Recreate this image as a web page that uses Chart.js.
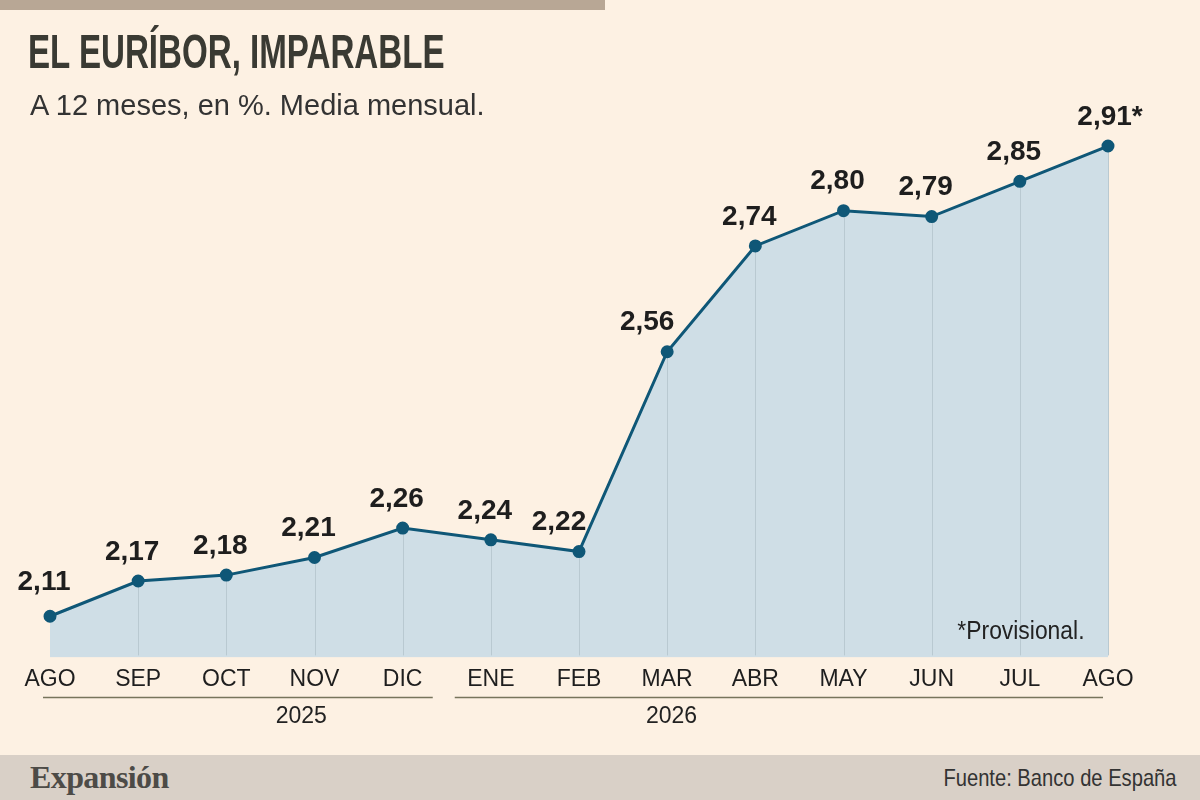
<!DOCTYPE html>
<html>
<head>
<meta charset="utf-8">
<script src="https://cdn.jsdelivr.net/npm/chart.js@4.4.1/dist/chart.umd.min.js"></script>
<style>
    html, body { margin: 0; padding: 0; }
    body { width: 1200px; height: 800px; background: #fdf1e3; position: relative; overflow: hidden; }
    #topbar { position: absolute; left: 0; top: 0; width: 605px; height: 10px; background: #b8a795; }
    #title { position: absolute; left: 28px; top: 24px; font-family: "Liberation Sans", sans-serif;
             font-weight: bold; font-size: 48px; line-height: 56px; color: #3a3a33; white-space: nowrap;
             transform: scaleX(0.69); transform-origin: left top; }
    #subtitle { position: absolute; left: 30px; top: 88px; font-family: "Liberation Sans", sans-serif; font-size: 29px;
                line-height: 34px; color: #333; white-space: nowrap; }
    #note { position: absolute; right: 115px; top: 615px; font-family: "Liberation Sans", sans-serif; font-size: 26px;
            line-height: 30px; color: #222; white-space: nowrap; transform: scaleX(0.88); transform-origin: right top; }
    #footer { position: absolute; left: 0; top: 755px; width: 1200px; height: 45px; background: #d9d0c7; }
    #logo { position: absolute; left: 30px; top: 3px; font-family: "Liberation Serif", serif; font-weight: bold; font-size: 32px;
            line-height: 38px; color: #4d4b47; letter-spacing: -0.6px; }
    #source { position: absolute; right: 23px; top: 8px; font-family: "Liberation Sans", sans-serif; font-size: 24px;
              line-height: 30px; color: #333; white-space: nowrap; transform: scaleX(0.84); transform-origin: right top; }
    #wrap { position: absolute; left: 0; top: 0; width: 1200px; height: 755px; }
</style>
</head>
<body>
<div id="topbar"></div>
<div id="wrap"><canvas id="myChart" width="1200" height="755"></canvas></div>
<div id="title">EL EURÍBOR, IMPARABLE</div>
<div id="subtitle">A 12 meses, en %. Media mensual.</div>
<div id="note">*Provisional.</div>
<div id="footer">
    <div id="logo">Expansión</div>
    <div id="source">Fuente: Banco de España</div>
</div>
<script>
    var months = ['AGO', 'SEP', 'OCT', 'NOV', 'DIC', 'ENE', 'FEB', 'MAR', 'ABR', 'MAY', 'JUN', 'JUL', 'AGO'];
    var euribor = [2.11, 2.17, 2.18, 2.21, 2.26, 2.24, 2.22, 2.56, 2.74, 2.80, 2.79, 2.85, 2.91];
    var valueLabels = ['2,11', '2,17', '2,18', '2,21', '2,26', '2,24', '2,22', '2,56', '2,74', '2,80', '2,79', '2,85', '2,91*'];
    var years = ['2025', '2026'];
    var yearMonths = [5, 8];   // how many months belong to each year

    var lineColor = '#0f5777';

    // vertical guides under the line, value labels and year brackets
    var decorations = {
        id: 'decorations',
        beforeDatasetDraw: function (chart) {
            var ctx = chart.ctx;
            var meta = chart.getDatasetMeta(0);
            var bottom = chart.chartArea.bottom;
            ctx.save();
            ctx.strokeStyle = '#b9c9d1';
            ctx.lineWidth = 1;
            meta.data.forEach(function (pt, i) {
                if (i === 0) return;
                ctx.beginPath();
                ctx.moveTo(Math.round(pt.x) + 0.5, pt.y);
                ctx.lineTo(Math.round(pt.x) + 0.5, bottom - 2);
                ctx.stroke();
            });
            ctx.restore();
        },
        afterDatasetsDraw: function (chart) {
            var ctx = chart.ctx;
            var meta = chart.getDatasetMeta(0);
            var x = chart.scales.x;
            ctx.save();
            ctx.fillStyle = '#1e1e1e';
            ctx.font = 'bold 28px "Liberation Sans", sans-serif';
            ctx.textAlign = 'center';
            ctx.textBaseline = 'middle';
            meta.data.forEach(function (pt, i) {
                var dx = -6;
                if (i < euribor.length - 1 && euribor[i + 1] - euribor[i] > 0.1) dx = -20;
                if (i === euribor.length - 1) dx = 2;
                var dy = i === 0 ? -34 : -29;
                ctx.fillText(valueLabels[i], pt.x + dx, pt.y + dy);
            });

            // year brackets
            var lineY = chart.chartArea.bottom + 40;
            ctx.strokeStyle = '#77755c';
            ctx.lineWidth = 1.5;
            ctx.font = '23px "Liberation Sans", sans-serif';
            ctx.fillStyle = '#222';
            var start = 0;
            years.forEach(function (yr, k) {
                var end = start + yearMonths[k] - 1;
                var x0 = k === 0 ? x.getPixelForValue(start) - 7 : (x.getPixelForValue(start - 1) + x.getPixelForValue(start)) / 2 + 8;
                var x1 = k === years.length - 1 ? x.getPixelForValue(end) - 5 : (x.getPixelForValue(end) + x.getPixelForValue(end + 1)) / 2 - 14;
                ctx.beginPath();
                ctx.moveTo(x0, lineY);
                ctx.lineTo(x1, lineY);
                ctx.stroke();
                var mid = k === 0 ? x.getPixelForValue(2.85) : x.getPixelForValue(7.05);
                ctx.fillText(yr, mid, lineY + 19);
                start = end + 1;
            });
            ctx.restore();
        }
    };

    window.onload = function () {
        var ctx = document.getElementById('myChart').getContext('2d');
        var myChart = new Chart(ctx, {
            type: 'line',
            data: {
                labels: months,
                datasets: [{
                    data: euribor,
                    borderColor: lineColor,
                    backgroundColor: '#cfdee6',
                    pointBackgroundColor: lineColor,
                    pointBorderColor: lineColor,
                    pointRadius: 5,
                    borderWidth: 3,
                    tension: 0,
                    fill: 'start'
                }]
            },
            options: {
                responsive: false,
                animation: false,
                devicePixelRatio: 1,
                layout: { padding: { left: 50, right: 92, top: 99, bottom: 54 } },
                plugins: { legend: { display: false }, tooltip: { enabled: false } },
                scales: {
                    x: {
                        grid: { display: false, drawTicks: false },
                        border: { display: false },
                        ticks: {
                            padding: 8,
                            color: '#1e1e1e',
                            maxRotation: 0,
                            autoSkip: false,
                            font: { family: '"Liberation Sans", sans-serif', size: 23, lineHeight: 1.2 }
                        }
                    },
                    y: {
                        display: false,
                        min: 2.04,
                        max: 2.99
                    }
                }
            },
            plugins: [decorations]
        });
    };
</script>
</body>
</html>
